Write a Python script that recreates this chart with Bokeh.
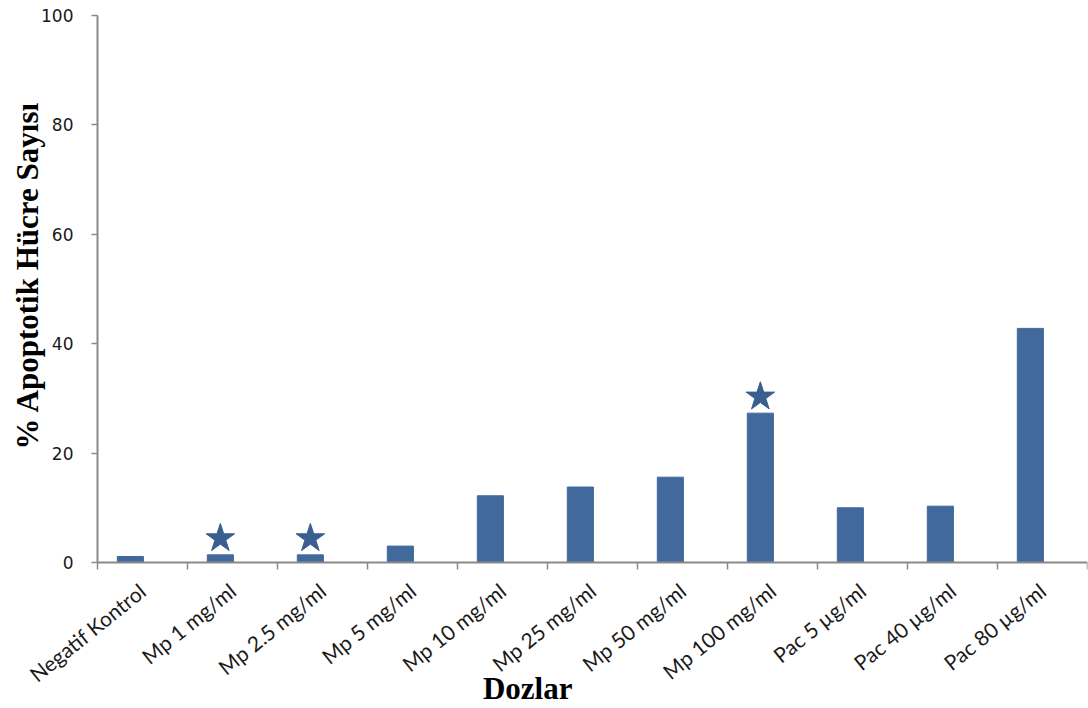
import numpy as np
from bokeh.plotting import figure
from bokeh.models import Range1d, FixedTicker, Label
from bokeh.embed import file_html
from bokeh.resources import INLINE

categories = ["Negatif Kontrol", "Mp 1 mg/ml", "Mp 2.5 mg/ml", "Mp 5 mg/ml", "Mp 10 mg/ml",
              "Mp 25 mg/ml", "Mp 50 mg/ml", "Mp 100 mg/ml", "Pac 5 µg/ml", "Pac 40 µg/ml",
              "Pac 80 µg/ml"]
values = [1.1, 1.4, 1.4, 3.0, 12.2, 13.8, 15.6, 27.3, 10.0, 10.3, 42.8]
star_categories = ["Mp 1 mg/ml", "Mp 2.5 mg/ml", "Mp 100 mg/ml"]
star_values = [4.4, 4.4, 30.3]
y_ticks = [0, 20, 40, 60, 80, 100]

BAR = "#41699b"
STAR = "#3a5e8f"
AXIS = "#8a8a8a"

n = len(categories)
idx = {c: i for i, c in enumerate(categories)}
bar_x = np.arange(n) + 0.5 - 0.135
star_x = np.array([idx[c] for c in star_categories]) + 0.5 - 0.135

p = figure(width=1088, height=708, output_backend="svg", toolbar_location=None,
           x_range=Range1d(-97 / 90, n), y_range=Range1d(-146 / 5.47, 100 + 15 / 5.47),
           min_border_left=0, min_border_right=1, min_border_top=0, min_border_bottom=0)
p.outline_line_color = None
p.xgrid.visible = False
p.ygrid.visible = False
p.background_fill_color = "white"
p.border_fill_color = "white"

p.vbar(x=bar_x, top=values, width=0.29, bottom=0, fill_color=BAR, line_color=BAR)
p.scatter(x=star_x, y=star_values, marker="star", size=30, fill_color=STAR, line_color=STAR)

# x axis: ticks at category boundaries, labels at centres
xa = p.xaxis[0]
xa.fixed_location = 0
xa.bounds = (0, n)
xa.ticker = FixedTicker(ticks=[i + 0.5 for i in range(n)], minor_ticks=list(range(n + 1)))
xa.major_label_overrides = {i + 0.5: c for i, c in enumerate(categories)}
xa.major_tick_line_color = None
xa.minor_tick_line_color = AXIS
xa.minor_tick_line_width = 1.5
xa.minor_tick_out = 7
xa.minor_tick_in = 0
xa.axis_line_color = AXIS
xa.axis_line_width = 2
xa.major_label_orientation = 0.68
xa.major_label_standoff = 18
xa.major_label_text_font = "Lato"
xa.major_label_text_font_size = "21px"
xa.major_label_text_color = "#1a1a1a"

ya = p.yaxis[0]
ya.fixed_location = 0
ya.bounds = (0, 100)
ya.ticker = FixedTicker(ticks=y_ticks)
ya.minor_tick_line_color = None
ya.major_tick_line_color = AXIS
ya.major_tick_line_width = 1.5
ya.major_tick_out = 6
ya.major_tick_in = 0
ya.axis_line_color = AXIS
ya.axis_line_width = 2
ya.major_label_standoff = 18
ya.major_label_text_font = "DejaVu Sans"
ya.major_label_text_font_size = "17px"
ya.major_label_text_color = "#1a1a1a"

p.add_layout(Label(x=-0.78, y=52.5, text="% Apoptotik Hücre Sayısı", angle=np.pi / 2,
                   text_font="Liberation Serif", text_font_style="bold",
                   text_font_size="31px", text_align="center", text_baseline="middle",
                   text_color="black"))
p.add_layout(Label(x=4.78, y=-23.0, text="Dozlar",
                   text_font="Liberation Serif", text_font_style="bold",
                   text_font_size="31px", text_align="center", text_baseline="middle",
                   text_color="black"))

open("out.html", "w").write(file_html(p, INLINE))
